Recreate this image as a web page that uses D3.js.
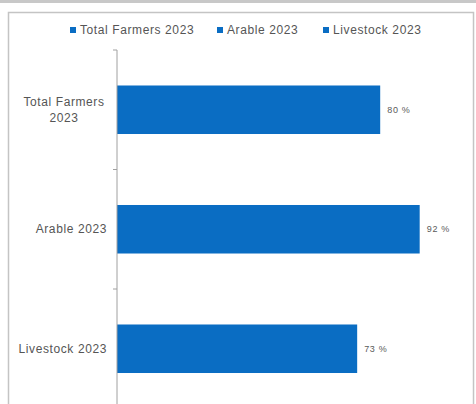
<!DOCTYPE html>
<html>
<head>
<meta charset="utf-8">
<script src="https://cdn.jsdelivr.net/npm/d3@7"></script>
<style>
  html, body { margin: 0; padding: 0; background: #fff; }
  svg { display: block; }
  text { font-family: "Liberation Sans", Arial, sans-serif; }
</style>
</head>
<body>
<svg id="chart" width="476" height="404"></svg>
<script>
// Share of farmers, 2023
const categories = ["Total Farmers 2023", "Arable 2023", "Livestock 2023"];
const categoryLines = [["Total Farmers", "2023"], ["Arable 2023"], ["Livestock 2023"]];
const values = [80, 92, 73];
const legendLabels = ["Total Farmers 2023", "Arable 2023", "Livestock 2023"];

const barColor = "#0a6dc3";
const textColor = "#555";

const svg = d3.select("#chart");

// page frame
svg.append("rect").attr("x", 0).attr("y", 0).attr("width", 476).attr("height", 3)
  .attr("fill", "#c8c8c8");
svg.append("rect").attr("x", 8.5).attr("y", 12.5).attr("width", 465).attr("height", 400)
  .attr("fill", "#fff").attr("stroke", "#c4c4c4").attr("stroke-width", 1.5);

const x = d3.scaleLinear().domain([0, 100]).range([117, 446]);
const y = d3.scaleBand().domain(categories).range([50, 408.5])
  .paddingInner(0.594).paddingOuter(0.297);

// bars
svg.append("g").selectAll("rect").data(categories).join("rect")
  .attr("x", x(0))
  .attr("y", d => y(d))
  .attr("width", (d, i) => x(values[i]) - x(0))
  .attr("height", y.bandwidth())
  .attr("fill", barColor);

// value labels
svg.append("g").selectAll("text").data(categories).join("text")
  .attr("x", (d, i) => x(values[i]) + 7)
  .attr("y", d => y(d) + y.bandwidth() / 2)
  .attr("dy", "0.35em")
  .attr("font-size", 9)
  .attr("letter-spacing", 0.7)
  .attr("fill", "#5a5a5a")
  .text((d, i) => values[i] + " %");

// category axis
const axisG = svg.append("g").attr("transform", `translate(${x(0)},0)`);
axisG.append("line").attr("x1", 0).attr("x2", 0).attr("y1", 50).attr("y2", 410)
  .attr("stroke", "#a0a0a0").attr("stroke-width", 1);
const step = y.step();
const bounds = [50, y(categories[1]) - (step - y.bandwidth()) / 2, y(categories[2]) - (step - y.bandwidth()) / 2];
axisG.selectAll("line.tick").data(bounds).join("line").attr("class", "tick")
  .attr("x1", -4).attr("x2", 0).attr("y1", d => d).attr("y2", d => d)
  .attr("stroke", "#a0a0a0");

// category labels (two-line label centred, single-line labels right-aligned)
const lab = svg.append("g").selectAll("text").data(categories).join("text")
  .attr("font-size", 12)
  .attr("letter-spacing", 0.6)
  .attr("fill", textColor);
lab.each(function(d, i) {
  const lines = categoryLines[i];
  const multi = lines.length > 1;
  const cy = y(d) + y.bandwidth() / 2 - (lines.length - 1) * 8;
  d3.select(this).selectAll("tspan").data(lines).join("tspan")
    .attr("x", multi ? 64 : 107)
    .attr("y", (t, j) => cy + j * 16)
    .attr("dy", "0.35em")
    .attr("text-anchor", multi ? "middle" : "end")
    .text(t => t);
});

// legend
const legendX = [70, 217, 323];
const leg = svg.append("g").selectAll("g").data(legendLabels).join("g")
  .attr("transform", (d, i) => `translate(${legendX[i]},30)`);
leg.append("rect").attr("x", 0).attr("y", -3).attr("width", 6).attr("height", 6)
  .attr("fill", barColor);
leg.append("text").attr("x", 10).attr("dy", "0.35em")
  .attr("font-size", 12).attr("letter-spacing", 0.6).attr("fill", textColor)
  .text(d => d);
</script>
</body>
</html>
